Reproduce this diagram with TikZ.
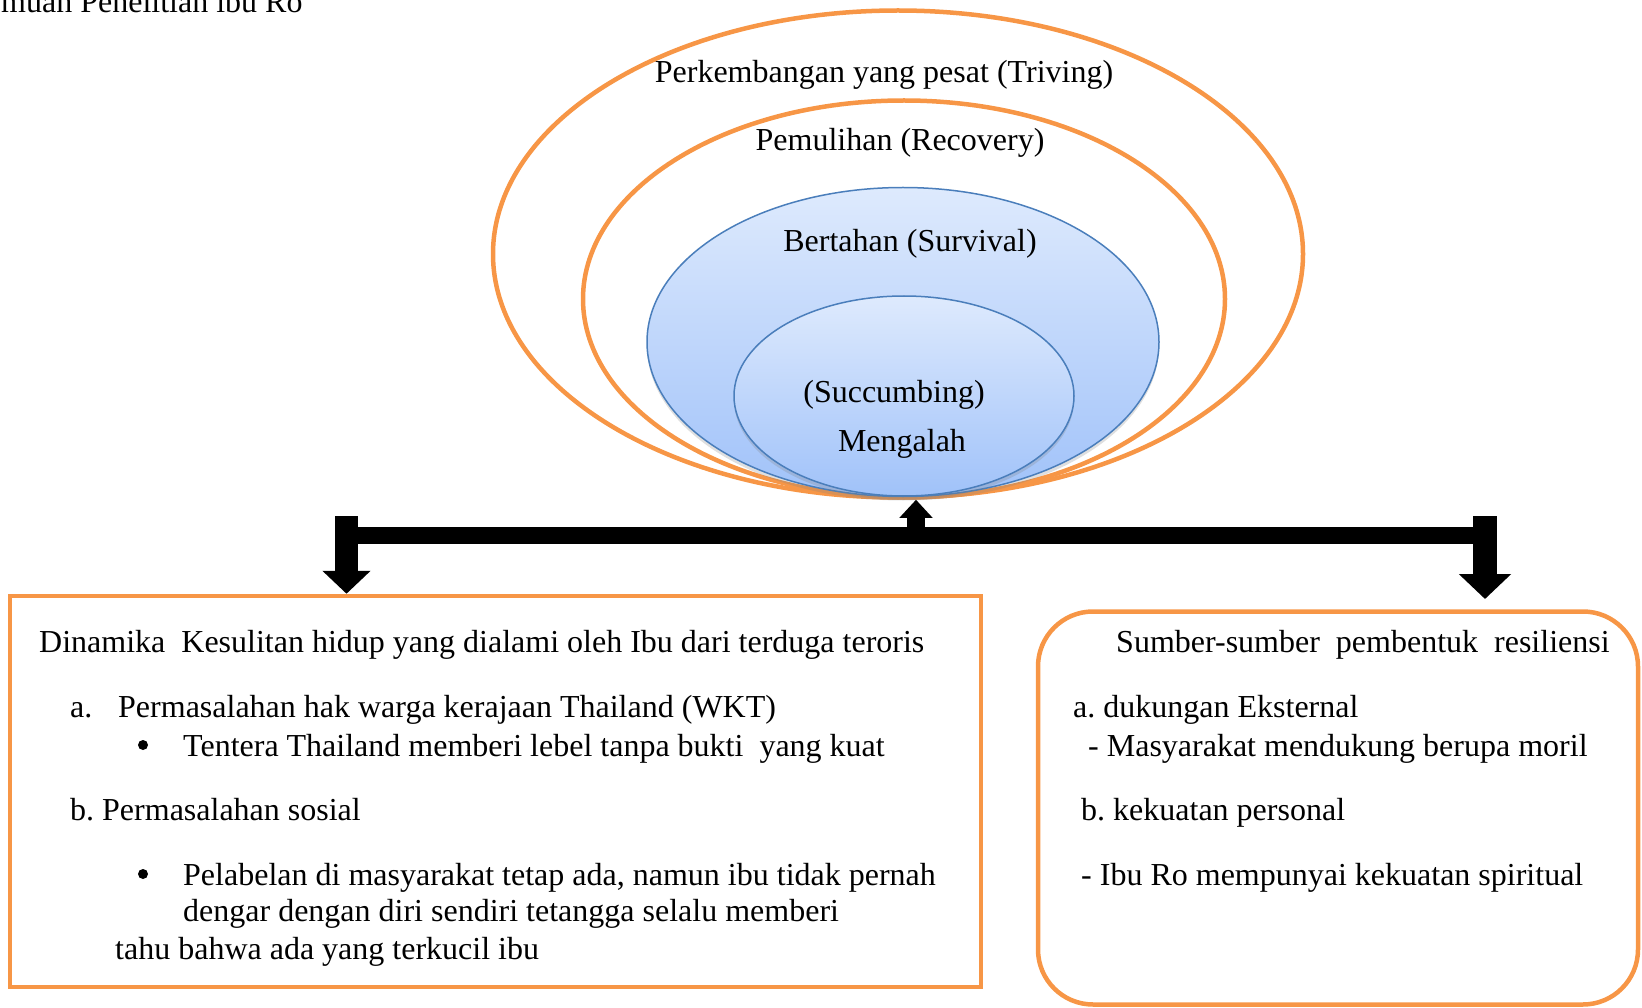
\documentclass[tikz,border=0pt]{standalone}
\usepackage{fontspec}
\setmainfont{Liberation Serif}
\usetikzlibrary{shapes.geometric,arrows.meta,shadows}
\frenchspacing

\definecolor{ringorange}{RGB}{247,150,70}
\definecolor{ovalline}{RGB}{74,126,187}
\definecolor{ovaltop}{RGB}{222,234,253}
\definecolor{ovalbot}{RGB}{160,194,249}

\tikzset{
	ring/.style={ellipse, draw=ringorange, line width=4.5pt, inner sep=0pt},
	oval/.style={ellipse, draw=ovalline, line width=1.5pt, top color=ovaltop, bottom color=ovalbot, inner sep=0pt,
		drop shadow={opacity=0.25, shadow xshift=0pt, shadow yshift=-4pt}},
	txt/.style={font=\fontsize{32}{38}\selectfont, inner sep=0pt},
	panel/.style={rectangle, draw=ringorange, line width=4.5pt, inner sep=0pt},
	dot/.style={circle, fill=black, inner sep=0pt, minimum size=10pt}
}

\begin{document}
\begin{tikzpicture}[x=1pt, y=-1pt]
		\clip (0,0) rectangle (1642,1008);

		\draw (1,13) node[txt, anchor=base west] (caption) {muan Penelitian ibu Ro};

		% rings
		\draw (898,254) node[ring, minimum width=810pt, minimum height=487pt] (triving) {};
		\draw (904,299) node[ring, minimum width=642pt, minimum height=397pt] (recovery) {};
		\draw (903,342) node[oval, minimum width=512pt, minimum height=309pt] (survival) {};
		\draw (904,396) node[oval, minimum width=340pt, minimum height=200pt] (succumb) {};

		\draw (884,75) node[txt] (lblTriving) {Perkembangan yang pesat (Triving)};
		\draw (900,143) node[txt] (lblRecovery) {Pemulihan (Recovery)};
		\draw (910,244) node[txt] (lblSurvival) {Bertahan (Survival)};
		\draw (894,395) node[txt] (lblSuccumb) {(Succumbing)};
		\draw (902,444) node[txt] (lblMengalah) {Mengalah};

		% boxes
		\draw (495.5,791.5) node[panel, minimum width=971pt, minimum height=391pt] (dinamika) {};
		\draw (1338,808) node[panel, rounded corners=55pt, minimum width=600pt, minimum height=393pt] (sumber) {};

		\draw (39,652) node[txt, anchor=base west] (din0) {Dinamika\ \ Kesulitan hidup yang dialami oleh Ibu dari terduga teroris};
		\draw (70,717) node[txt, anchor=base west] (dinA) {a.};
		\draw (118,717) node[txt, anchor=base west] (dinA1) {Permasalahan hak warga kerajaan Thailand (WKT)};
		\draw (143,745) node[dot] (dotA) {};
		\draw (183,756) node[txt, anchor=base west] (dinA2) {Tentera Thailand memberi lebel tanpa bukti\ \ yang kuat};
		\draw (70,820) node[txt, anchor=base west] (dinB) {b. Permasalahan sosial};
		\draw (143,874) node[dot] (dotB) {};
		\draw (183,885) node[txt, anchor=base west] (dinB1) {Pelabelan di masyarakat tetap ada, namun ibu tidak pernah};
		\draw (183,921) node[txt, anchor=base west] (dinB2) {dengar dengan diri sendiri tetangga selalu memberi};
		\draw (115,959) node[txt, anchor=base west] (dinB3) {tahu bahwa ada yang terkucil ibu};

		\draw (1116,652) node[txt, anchor=base west] (sum0) {Sumber-sumber\ \ pembentuk\ \ resiliensi};
		\draw (1073,717) node[txt, anchor=base west] (sumA) {a. dukungan Eksternal};
		\draw (1088,756) node[txt, anchor=base west] (sumA1) {- Masyarakat mendukung berupa moril};
		\draw (1081,820) node[txt, anchor=base west] (sumB) {b. kekuatan personal};
		\draw (1081,885) node[txt, anchor=base west] (sumB1) {- Ibu Ro mempunyai kekuatan spiritual};

		% bar and arrows
		\coordinate (hubL) at (335,535.5);
		\coordinate (hubR) at (1497,535.5);
		\coordinate (hubM) at (916,527);
		\coordinate (dropL) at (346.5,516);
		\coordinate (dropR) at (1485,516);
		\coordinate (tipR) at (1485,599);

		\draw [line width=17pt] (hubL) -- (hubR);
		\draw [line width=23pt, -{Triangle[width=47pt,length=23pt]}] (dropL) -- (dropL |- dinamika.north);
		\draw [line width=24pt, -{Triangle[width=51pt,length=25pt]}] (dropR) -- (tipR);
		\draw [line width=18pt, -{Triangle[width=32pt,length=18pt]}, shorten >=3pt] (hubM) -- (hubM |- succumb.south);
	\end{tikzpicture}
\end{document}
